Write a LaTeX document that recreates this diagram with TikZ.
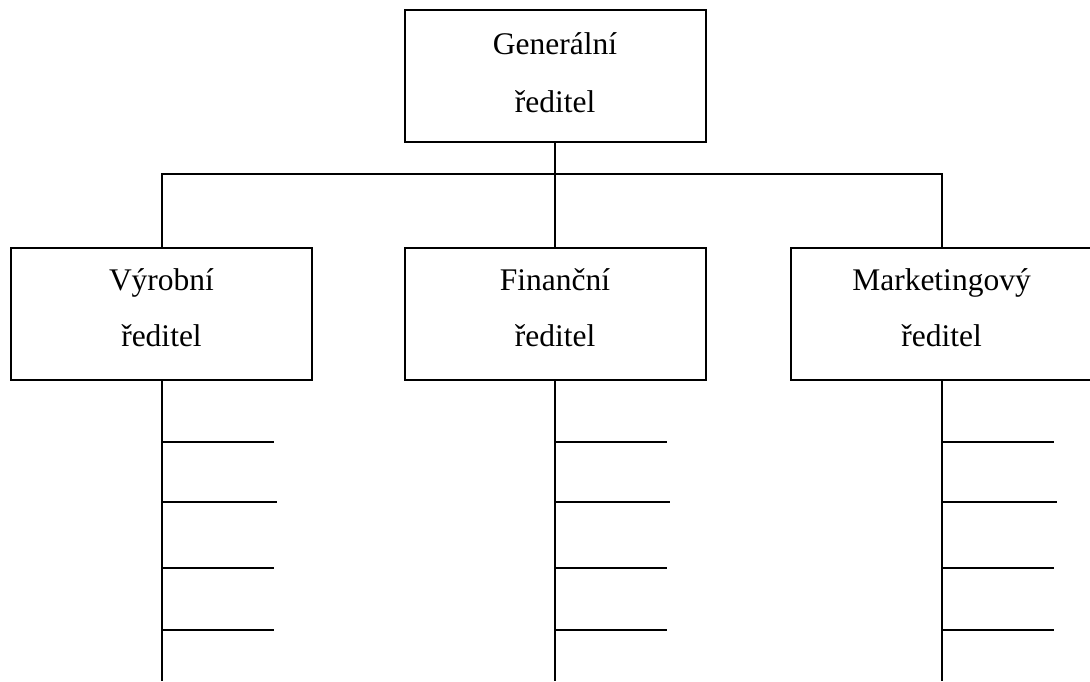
\documentclass[tikz,border=0pt]{standalone}
\usepackage{fontspec}
\setmainfont{Liberation Serif}
\begin{document}
\begin{tikzpicture}[x=1pt,y=-1pt,
  line width=2pt,
  % two-line boxes; text height fixes how far the last baseline sits below the centre
  box/.style={draw, line width=2pt, inner sep=0pt, minimum width=301pt,
    minimum height=132pt, align=center, text depth=0pt},
  headbox/.style={box, font=\fontsize{31.5}{58}\selectfont, text height=72pt},
  deptbox/.style={box, font=\fontsize{31.5}{56}\selectfont, text height=64pt},
  tick/.style={line width=2pt}]
  \clip (0,0) rectangle (1090,681);
  \fill[white] (0,0) rectangle (1090,681);

  % managing director
  \node[headbox] (gen) at (555,76) {Generální\\ředitel};

  % department heads
  \node[deptbox] (vyr) at (161.5,314) {Výrobní\\ředitel};
  \node[deptbox] (fin) at (555,314) {Finanční\\ředitel};
  \node[deptbox] (mkt) at (941.5,314) {Marketingový\\ředitel};

  % connecting bus
  \coordinate (bus) at (555,174);
  \draw (gen.south) -- (fin.north);
  \draw (vyr.north) |- (bus) -| (mkt.north);

  % subordinate ladders under each department
  \foreach \n in {vyr,fin,mkt}{
    \coordinate (\n-end) at (\n.south |- 0,681);
    \draw (\n.south) -- (\n-end);
    \foreach \y/\len in {442/112, 502/115, 568/112, 630/112}{
      \draw[tick] (\n.south |- 0,\y) -- ++(\len,0);
    }
  }
\end{tikzpicture}
\end{document}
